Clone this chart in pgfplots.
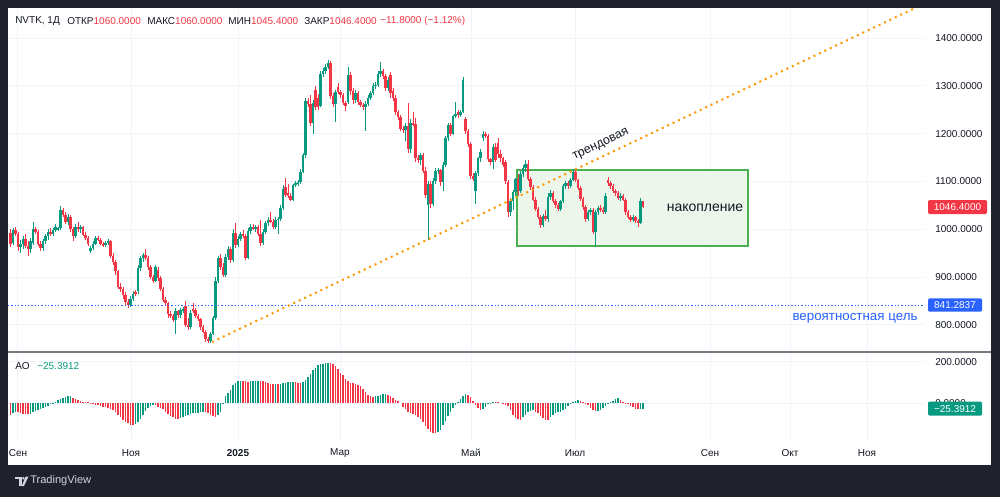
\documentclass[border=0pt]{standalone}
\usepackage{pgfplots}
\pgfplotsset{compat=1.18}
\usepackage{pgfplotstable}
\usepackage{fontspec}
\setmainfont{Liberation Sans}

\definecolor{tvbg}{RGB}{31,34,45}
\definecolor{tvgreen}{RGB}{8,153,129}
\definecolor{tvred}{RGB}{242,54,69}
\definecolor{tvblue}{RGB}{41,98,255}
\definecolor{tvtext}{RGB}{19,23,34}
\definecolor{tvgrid}{RGB}{242,244,249}
\definecolor{tvorange}{RGB}{255,152,0}
\definecolor{boxfill}{RGB}{236,246,234}
\definecolor{boxline}{RGB}{76,175,80}
\definecolor{sepline}{RGB}{120,123,134}
\definecolor{logo}{RGB}{209,212,220}

\newcommand{\tvfont}{\fontsize{7.5pt}{9pt}\selectfont}

% daily candles: index, open, high, low, close
\pgfplotstableread{
i o h l c
0 992 1000 962 970
1 972 1002 968 998
2 998 1005 985 990
3 990 995 955 962
4 962 978 950 970
5 970 985 958 980
6 980 990 960 965
7 965 975 945 958
8 958 982 950 976
9 972 1015 968 1000
10 1000 1005 990 995
11 995 998 965 970
12 970 975 955 960
13 960 980 955 976
14 976 990 970 985
15 985 1000 978 995
16 995 1003 985 990
17 990 1002 986 998
18 998 1010 994 1005
19 1000 1005 996 1002
20 1002 1048 998 1040
21 1040 1045 1025 1030
22 1030 1035 1010 1015
23 1015 1032 1008 1025
24 1025 1030 995 1000
25 1000 1005 975 985
26 985 1010 982 1005
27 1005 1015 995 1000
28 1000 1008 992 1004
29 1004 1006 985 988
30 988 995 978 982
31 982 985 965 970
32 955 965 950 960
33 960 975 956 970
34 970 985 966 982
35 982 985 975 978
36 978 982 968 970
37 970 974 962 966
38 966 975 962 972
39 972 980 968 975
40 975 978 940 945
41 945 950 925 932
42 932 935 905 912
43 912 915 875 880
44 880 888 868 875
45 875 880 855 862
46 862 868 842 848
47 848 855 835 842
48 842 860 838 855
49 855 870 850 865
50 868 872 860 864
51 870 925 865 918
52 918 945 912 940
53 940 950 932 946
54 946 958 935 940
55 940 944 915 920
56 920 925 895 900
57 900 905 888 892
58 892 925 890 920
59 915 920 892 898
60 898 902 870 875
61 875 880 848 852
62 852 858 840 845
63 845 848 815 822
64 822 828 815 818
65 818 822 805 810
66 810 835 780 828
67 828 832 815 820
68 820 835 815 830
69 830 838 825 834
70 840 850 795 800
71 800 815 790 795
72 795 830 792 825
73 832 845 825 830
74 830 836 815 818
75 818 822 808 812
76 812 815 790 795
77 795 800 782 786
78 786 790 765 770
79 770 775 762 766
80 766 784 762 780
81 780 818 778 814
82 814 900 810 892
83 892 945 888 940
84 940 948 915 920
85 920 930 900 905
86 905 948 900 942
87 942 965 935 958
88 958 962 930 935
89 935 1000 932 992
90 992 1012 960 968
91 968 985 962 980
92 980 995 976 990
93 990 998 982 986
94 986 990 935 940
95 940 1002 938 996
96 996 1010 990 1005
97 1005 1010 998 1002
98 1002 1008 995 1004
99 1004 1008 985 990
100 990 1020 965 972
101 972 1000 968 995
102 995 1018 990 1012
103 1012 1025 1006 1020
104 1020 1035 1012 1015
105 1015 1022 1000 1005
106 1005 1025 1000 1020
107 1020 1025 990 1022
108 1022 1050 1018 1045
109 1045 1092 1040 1085
110 1088 1107 1068 1072
111 1075 1095 1065 1070
112 1070 1075 1058 1062
113 1062 1095 1058 1092
114 1092 1100 1088 1096
115 1096 1102 1090 1098
116 1098 1125 1095 1120
117 1120 1160 1118 1155
118 1155 1275 1150 1268
119 1268 1275 1255 1262
120 1262 1280 1215 1222
121 1222 1270 1200 1265
122 1292 1300 1250 1256
123 1275 1282 1250 1255
124 1258 1330 1255 1325
125 1325 1338 1318 1330
126 1330 1345 1325 1340
127 1340 1355 1335 1348
128 1348 1352 1272 1278
129 1278 1285 1255 1262
130 1262 1292 1225 1288
131 1298 1305 1282 1288
132 1288 1292 1275 1280
133 1280 1285 1260 1265
134 1265 1268 1248 1258
135 1266 1340 1262 1322
136 1322 1328 1280 1290
137 1290 1296 1262 1270
138 1270 1292 1265 1285
139 1285 1290 1260 1266
140 1266 1270 1255 1260
141 1260 1265 1250 1256
142 1256 1268 1205 1262
143 1262 1280 1258 1275
144 1275 1290 1270 1285
145 1285 1305 1280 1300
146 1300 1308 1294 1302
147 1302 1332 1298 1325
148 1325 1350 1318 1330
149 1330 1335 1315 1320
150 1320 1325 1290 1295
151 1295 1318 1290 1312
152 1322 1328 1275 1285
153 1290 1295 1268 1275
154 1275 1280 1240 1245
155 1245 1250 1228 1235
156 1235 1240 1205 1210
157 1210 1215 1202 1208
158 1208 1222 1185 1215
159 1215 1265 1160 1168
160 1168 1230 1160 1222
161 1222 1245 1215 1220
162 1220 1232 1140 1148
163 1148 1155 1138 1145
164 1145 1160 1135 1155
165 1155 1160 1118 1122
166 1122 1130 1065 1072
167 1050 1100 978 1095
168 1095 1100 1045 1052
169 1052 1108 1048 1100
170 1100 1128 1095 1122
171 1122 1128 1115 1124
172 1124 1126 1090 1098
173 1098 1140 1080 1135
174 1135 1195 1130 1190
175 1190 1222 1185 1218
176 1218 1222 1195 1200
177 1200 1240 1198 1236
178 1236 1266 1232 1242
179 1245 1250 1232 1238
180 1238 1250 1235 1246
181 1246 1318 1244 1312
182 1230 1235 1200 1205
183 1205 1210 1172 1178
184 1178 1182 1105 1112
185 1112 1118 1100 1106
186 1080 1122 1052 1118
187 1118 1152 1112 1148
188 1148 1168 1140 1162
189 1190 1205 1185 1200
190 1200 1203 1190 1196
191 1196 1200 1140 1146
192 1146 1150 1135 1140
193 1140 1178 1125 1172
194 1172 1180 1140 1145
195 1180 1190 1150 1158
196 1158 1165 1140 1148
197 1148 1152 1130 1135
198 1140 1145 1095 1100
199 1098 1102 1025 1036
200 1036 1066 1028 1060
201 1060 1082 1040 1078
202 1078 1108 1070 1105
203 1105 1115 1070 1080
204 1080 1122 1075 1115
205 1115 1135 1110 1128
206 1128 1145 1120 1136
207 1136 1145 1100 1106
208 1106 1110 1082 1088
209 1088 1092 1058 1062
210 1062 1068 1038 1042
211 1042 1046 1022 1026
212 1026 1030 1002 1008
213 1008 1032 1005 1028
214 1028 1040 1018 1022
215 1022 1075 1015 1068
216 1068 1082 1062 1076
217 1076 1080 1055 1060
218 1060 1064 1045 1050
219 1050 1054 1038 1042
220 1042 1062 1038 1058
221 1058 1095 1055 1090
222 1090 1100 1085 1096
223 1096 1100 1085 1090
224 1090 1108 1086 1104
225 1104 1126 1100 1120
226 1120 1124 1098 1102
227 1102 1106 1082 1086
228 1086 1090 1058 1064
229 1064 1068 1040 1046
230 1046 1050 1015 1022
231 1022 1040 1018 1036
232 1036 1045 1030 1040
233 1040 1044 990 995
234 995 1040 965 1035
235 1035 1048 1030 1044
236 1044 1050 1036 1040
237 1040 1046 1032 1036
238 1036 1075 1032 1070
239 1102 1110 1090 1096
240 1096 1100 1085 1090
241 1090 1094 1075 1080
242 1080 1085 1070 1076
243 1076 1080 1062 1066
244 1066 1075 1060 1070
245 1070 1074 1058 1062
246 1062 1065 1030 1036
247 1036 1040 1022 1026
248 1026 1030 1015 1020
249 1020 1030 1016 1026
250 1026 1028 1014 1018
251 1018 1022 1005 1012
252 1012 1065 1010 1060
253 1060 1060 1045.4 1046.4
}\candles

% Awesome Oscillator: index, value, rising flag
\pgfplotstableread{
i v d
0 -56 0
1 -48 1
2 -41 1
3 -44 0
4 -48 0
5 -50 0
6 -51 0
7 -53 0
8 -50 1
9 -41 1
10 -35 1
11 -30 1
12 -26 1
13 -23 1
14 -18 1
15 -14 1
16 -3 1
17 3 1
18 7 1
19 14 1
20 20 1
21 25 1
22 30 1
23 35 1
24 36 1
25 27 0
26 20 0
27 14 0
28 11 0
29 8 0
30 6 0
31 4 0
32 -1 0
33 -4 0
34 -7 0
35 -10 0
36 -13 0
37 -16 0
38 -19 0
39 -22 0
40 -27 0
41 -33 0
42 -44 0
43 -56 0
44 -68 0
45 -80 0
46 -90 0
47 -97 0
48 -102 0
49 -104 0
50 -98 1
51 -88 1
52 -75 1
53 -58 1
54 -38 1
55 -24 1
56 -12 1
57 -9 1
58 -10 0
59 -16 0
60 -22 0
61 -29 0
62 -40 0
63 -50 0
64 -59 0
65 -66 0
66 -74 0
67 -75 0
68 -72 1
69 -66 1
70 -60 1
71 -55 1
72 -51 1
73 -49 1
74 -47 1
75 -45 1
76 -43 1
77 -40 1
78 -44 0
79 -48 0
80 -56 0
81 -62 0
82 -64 0
83 -55 1
84 -40 1
85 3 1
86 34 1
87 50 1
88 66 1
89 88 1
90 100 1
91 106 1
92 107 1
93 106 0
94 105 0
95 104 0
96 106 1
97 107 1
98 108 1
99 109 1
100 107 0
101 105 0
102 101 0
103 97 0
104 93 0
105 92 0
106 93 1
107 91 0
108 93 1
109 96 1
110 98 1
111 101 1
112 103 1
113 104 1
114 102 0
115 100 0
116 96 0
117 102 1
118 112 1
119 126 1
120 142 1
121 158 1
122 170 1
123 183 1
124 188 1
125 191 1
126 193 1
127 195 1
128 194 0
129 191 0
130 180 0
131 165 0
132 148 0
133 134 0
134 115 0
135 105 0
136 99 0
137 97 0
138 95 0
139 90 0
140 82 0
141 68 0
142 52 0
143 40 0
144 35 0
145 32 0
146 34 1
147 36 1
148 41 1
149 43 1
150 44 1
151 40 0
152 35 0
153 27 0
154 17 0
155 9 0
156 0 0
157 -18 0
158 -29 0
159 -40 0
160 -46 0
161 -51 0
162 -57 0
163 -64 0
164 -74 0
165 -88 0
166 -108 0
167 -124 0
168 -139 0
169 -143 0
170 -144 0
171 -136 1
172 -126 1
173 -105 1
174 -84 1
175 -62 1
176 -40 1
177 -24 1
178 -6 1
179 8 1
180 22 1
181 34 1
182 46 1
183 42 0
184 28 0
185 10 0
186 -10 0
187 -24 0
188 -31 0
189 -26 1
190 -18 1
191 -4 1
192 3 1
193 8 1
194 7 0
195 5 0
196 0 0
197 -4 0
198 -7 0
199 -15 0
200 -34 0
201 -55 0
202 -70 0
203 -77 0
204 -80 0
205 -66 1
206 -54 1
207 -44 1
208 -37 1
209 -32 1
210 -40 0
211 -48 0
212 -62 0
213 -72 0
214 -78 0
215 -79 0
216 -68 1
217 -58 1
218 -49 1
219 -44 1
220 -40 1
221 -34 1
222 -27 1
223 -14 1
224 -4 1
225 5 1
226 12 1
227 16 1
228 11 0
229 7 0
230 -4 0
231 -10 0
232 -21 0
233 -31 0
234 -39 0
235 -36 1
236 -31 1
237 -22 1
238 -12 1
239 -3 1
240 5 1
241 13 1
242 20 1
243 24 1
244 16 0
245 8 0
246 1 0
247 -4 0
248 -12 0
249 -19 0
250 -26 0
251 -29 0
252 -28 1
253 -25.3912 1
}\aovals

\pgfplotsset{
  tvpane/.style={
    scale only axis, width=687.75pt,
    xmin=-1, xmax=365.8,
    axis line style={draw=none}, major tick length=0pt,
    xtick={2.99,48.2,91,131.8,184.2,225.8,279.8,311.8,342.6},
    grid=major, major grid style={tvgrid, line width=0.75pt},
    yticklabel pos=right,
    yticklabel style={anchor=west, inner sep=0pt, xshift=7.5pt, font=\tvfont, text=tvtext,
      /pgf/number format/fixed, /pgf/number format/fixed zerofill,
      /pgf/number format/precision=4, /pgf/number format/1000 sep={},
      /pgf/number format/assume math mode=true},
    clip mode=individual,
  },
  wick/.style={draw=none, mark=none, forget plot,
    error bars/y dir=both, error bars/y explicit, error bars/error mark=none,
    error bars/error bar style={draw=#1, line width=0.75pt}},
  body/.style={draw=none, mark=none, forget plot,
    error bars/y dir=both, error bars/y explicit, error bars/error mark=none,
    error bars/error bar style={draw=#1, line width=1.65pt}},
}

\begin{document}
\begin{tikzpicture}
\begin{scope}[x=0.75pt,y=-0.75pt]
  \useasboundingbox (0,0) rectangle (1000,497);
  \fill[tvbg] (0,0) rectangle (1000,497);
  \fill[white] (8,8) rectangle (991,465);
\end{scope}

% price pane
\begin{axis}[tvpane, at={(6pt,-264pt)}, anchor=south west, height=258pt,
  ymin=743.1, ymax=1462.8, ytick={800,900,...,1400}, xticklabels={}]

  \draw[boxline, fill=boxfill, line width=1.5pt]
    (axis cs:202.6,964.9) rectangle (axis cs:295,1123.9);

  \addplot[restrict expr to domain={\thisrow{c}-\thisrow{o}}{0:100000}, wick=tvgreen]
    table[x=i, y expr={(\thisrow{h}+\thisrow{l})/2}, y error expr={(\thisrow{h}-\thisrow{l})/2}] {\candles};
  \addplot[restrict expr to domain={\thisrow{c}-\thisrow{o}}{-100000:-0.001}, wick=tvred]
    table[x=i, y expr={(\thisrow{h}+\thisrow{l})/2}, y error expr={(\thisrow{h}-\thisrow{l})/2}] {\candles};
  \addplot[restrict expr to domain={\thisrow{c}-\thisrow{o}}{0:100000}, body=tvgreen]
    table[x=i, y expr={(\thisrow{o}+\thisrow{c})/2}, y error expr={max(abs(\thisrow{c}-\thisrow{o})/2,1.2)}] {\candles};
  \addplot[restrict expr to domain={\thisrow{c}-\thisrow{o}}{-100000:-0.001}, body=tvred]
    table[x=i, y expr={(\thisrow{o}+\thisrow{c})/2}, y error expr={max(abs(\thisrow{c}-\thisrow{o})/2,1.2)}] {\candles};

  % target level
  \addplot[tvblue, line width=0.75pt, dash pattern=on 0.9pt off 1.6pt] coordinates {(-1,841.2837) (365.8,841.2837)};
  % trend line from the December low
  \addplot[tvorange, line width=1.5pt, dash pattern=on 1.5pt off 3pt] coordinates {(80.6,764) (380,1508)};

  \node[font=\fontsize{10.5pt}{12pt}\selectfont, text=tvtext] at (axis cs:277.8,1044.4) {накопление};
  \node[font=\fontsize{10pt}{12pt}\selectfont, text=tvblue] at (axis cs:337.8,814) {вероятностная цель};

  \node[fill=tvred, text=white, font=\tvfont, inner sep=0pt, minimum width=44.25pt, minimum height=10.5pt, rounded corners=1pt]
    at (axis cs:378.8,1046.4) {1046.4000};
  \node[fill=tvblue, text=white, font=\tvfont, inner sep=0pt, minimum width=40.5pt, minimum height=10pt, rounded corners=1pt]
    at (axis cs:377.8,841.2837) {841.2837};
\end{axis}

% oscillator pane
\begin{axis}[tvpane, at={(6pt,-330pt)}, anchor=south west, height=66pt,
  ymin=-176.5, ymax=246.7, ytick={0,200},
  xticklabels={Сен,Ноя,\textbf{2025},Мар,Май,Июл,Сен,Окт,Ноя},
  xticklabel style={anchor=center, yshift=-9.75pt, font=\tvfont, text=tvtext}]
  \addplot[ycomb, tvgreen, line width=0.9pt, restrict expr to domain={\thisrow{d}}{0.5:1.5}]
    table[x=i, y=v] {\aovals};
  \addplot[ycomb, tvred, line width=0.9pt, restrict expr to domain={\thisrow{d}}{-0.5:0.5}]
    table[x=i, y=v] {\aovals};
  \node[fill=tvgreen, text=white, font=\tvfont, inner sep=0pt, minimum width=40.5pt, minimum height=10.5pt, rounded corners=1pt]
    at (axis cs:377.8,-25.3912) {−25.3912};
\end{axis}

\begin{scope}[x=0.75pt,y=-0.75pt]
  \draw[sepline, line width=0.9pt] (8,352) -- (991,352);
  % header
  \begin{scope}[every node/.style={anchor=west, inner sep=0pt, font=\tvfont, text=tvtext}]
    \node at (15,21) {NVTK, 1Д};
    \node at (67,21) {ОТКР\textcolor{tvred}{1060.0000}};
    \node at (147,21) {МАКС\textcolor{tvred}{1060.0000}};
    \node at (228,21) {МИН\textcolor{tvred}{1045.4000}};
    \node at (304,21) {ЗАКР\textcolor{tvred}{1046.4000}};
    \node at (380,21) {\textcolor{tvred}{−11.8000 (−1.12\%)}};
    \node at (15,366) {AO};
    \node at (37,366) {\textcolor{tvgreen}{−25.3912}};
  \end{scope}
  \node[rotate=25.5, font=\fontsize{9.3pt}{11pt}\selectfont, text=tvtext] at (601,145) {трендовая};
  % footer logo
  \fill[logo] (15,476.5) rectangle (21.5,479);
  \fill[logo] (18.5,476.5) rectangle (21.5,486);
  \fill[logo] (23.3,478.2) circle (1.4);
  \fill[logo] (25.5,476.5) -- (28.5,476.5) -- (24,486) -- (21.8,486) -- cycle;
  \node[anchor=west, inner sep=0pt, font=\fontsize{8.3pt}{10pt}\selectfont, text=logo] at (30,481) {TradingView};
\end{scope}
\end{tikzpicture}
\end{document}
